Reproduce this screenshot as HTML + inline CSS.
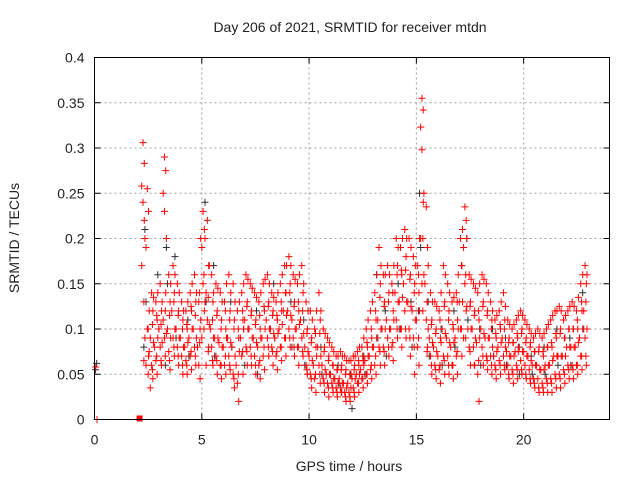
<!DOCTYPE html>
<html><head><meta charset="utf-8"><style>
body{margin:0;background:#fff}
svg text{font-family:"Liberation Sans",sans-serif;font-size:14px;fill:#222}
</style></head><body>
<svg id="c" width="640" height="480" xmlns="http://www.w3.org/2000/svg">
<text x="350" y="32" text-anchor="middle">Day 206 of 2021, SRMTID for receiver mtdn</text>
<text x="349" y="471" text-anchor="middle">GPS time / hours</text>
<text transform="translate(19,238) rotate(-90)" text-anchor="middle">SRMTID / TECUs</text>
<g id="grid"></g><g id="ticks"></g><g id="marks"></g>
<rect x="94.5" y="57.5" width="515" height="362" fill="none" stroke="#000" stroke-width="1"/>
</svg>
<script>
const xTicks=[0,5,10,15,20];
const yTicks=[0,0.05,0.1,0.15,0.2,0.25,0.3,0.35,0.4];
const yTickLabels=["0","0.05","0.1","0.15","0.2","0.25","0.3","0.35","0.4"];
const redRows=[
[0,.058,0.0],
[2.2,.306,.283,.258,.24,.22,.17],[2.4,.255,.23,.19,.1,.07,.06],[2.6,.14,.12,.09,.06,.045,.035],[2.8,.13,.11,.08,.065,.05],
[3.0,.15,.12,.1,.08,.06],[3.2,.29,.275,.25,.23,.14,.11,.09],[3.4,.16,.13,.1,.075,.055],[3.6,.17,.14,.12,.09,.07],[3.8,.15,.12,.1,.08,.06],
[4.0,.13,.11,.09,.07,.05],[4.2,.12,.1,.08,.065,.05],[4.4,.14,.12,.09,.07,.055],[4.6,.16,.13,.1,.08,.06],[4.8,.13,.1,.08,.06,.045],
[5.0,.23,.21,.19,.15,.12,.09],[5.2,.22,.17,.14,.11,.08,.06],[5.4,.16,.13,.1,.08,.06],[5.6,.15,.12,.09,.07,.05],[5.8,.14,.11,.085,.06,.045],
[6.0,.13,.1,.08,.06,.05],[6.2,.16,.12,.09,.07,.055],[6.4,.15,.11,.08,.05,.035],[6.6,.12,.09,.06,.04,.02],[6.8,.14,.11,.09,.07,.05],
[7.0,.16,.13,.11,.08,.06],[7.2,.15,.12,.1,.08,.06],[7.4,.14,.11,.09,.07,.05],[7.6,.13,.1,.08,.06,.045],[7.8,.15,.12,.09,.07,.055],
[8.0,.16,.13,.11,.09,.07],[8.2,.14,.12,.1,.08,.06],[8.4,.13,.11,.09,.07,.055],[8.6,.15,.12,.1,.08,.065],[8.8,.17,.14,.12,.09,.07],
[9.0,.18,.15,.12,.1,.08],[9.2,.16,.13,.11,.09,.07],[9.4,.15,.12,.1,.08,.06],[9.6,.17,.14,.11,.09,.07],[9.8,.13,.1,.08,.06,.05],
[10.0,.12,.09,.07,.05,.035],[10.2,.1,.08,.06,.045,.03],[10.4,.14,.11,.08,.06,.04],[10.6,.1,.08,.06,.045,.03],[10.8,.09,.07,.05,.04,.025],
[11.0,.08,.06,.05,.04,.03],[11.2,.07,.055,.045,.035,.025],[11.4,.075,.06,.045,.035,.03],[11.6,.07,.055,.04,.03,.02],[11.8,.065,.05,.04,.03,.02],
[12.0,.07,.06,.045,.035,.025],[12.2,.075,.06,.05,.04,.03],[12.4,.08,.065,.055,.045,.035],[12.6,.1,.08,.065,.05,.04],[12.8,.12,.09,.07,.055,.045],
[13.0,.14,.11,.08,.06,.05],[13.2,.19,.15,.11,.08,.06],[13.4,.16,.13,.1,.08,.06],[13.6,.17,.14,.11,.09,.07],[13.8,.15,.12,.1,.08,.065],
[14.0,.2,.17,.14,.11,.09],[14.2,.19,.16,.13,.1,.08],[14.4,.21,.18,.15,.12,.09],[14.6,.2,.16,.13,.1,.07],[14.8,.18,.15,.12,.09,.05],
[15.0,.17,.14,.11,.08,.06],[15.2,.355,.342,.323,.298,.24,.2,.15],[15.4,.235,.19,.15,.11,.08],[15.6,.14,.11,.09,.07,.05],[15.8,.13,.1,.08,.06,.045],
[16.0,.12,.09,.07,.055,.04],[16.2,.17,.13,.1,.07,.05],[16.4,.15,.12,.09,.07,.05],[16.6,.13,.1,.08,.06,.045],[16.8,.14,.11,.09,.07,.05],
[17.0,.2,.17,.13,.1,.07],[17.2,.235,.22,.19,.15,.12,.09],[17.4,.16,.13,.1,.08,.06],[17.6,.15,.12,.1,.08,.06],[17.8,.14,.11,.085,.05,.02],
[18.0,.16,.13,.1,.08,.06],[18.2,.15,.12,.09,.07,.055],[18.4,.13,.11,.09,.07,.05],[18.6,.11,.09,.07,.06,.045],[18.8,.12,.1,.08,.065,.05],
[19.0,.14,.11,.09,.07,.055],[19.2,.11,.09,.075,.06,.045],[19.4,.1,.085,.07,.055,.04],[19.6,.11,.09,.075,.06,.045],[19.8,.12,.1,.08,.065,.05],
[20.0,.11,.09,.075,.06,.045],[20.2,.1,.085,.07,.055,.04],[20.4,.09,.075,.06,.045,.035],[20.6,.1,.08,.06,.045,.03],[20.8,.09,.07,.055,.04,.03],
[21.0,.1,.08,.06,.045,.03],[21.2,.11,.08,.06,.045,.03],[21.4,.12,.09,.07,.05,.035],[21.6,.125,.1,.07,.05,.035],[21.8,.11,.09,.07,.055,.04],
[22.0,.12,.1,.08,.06,.045],[22.2,.13,.1,.08,.06,.045],[22.4,.12,.1,.08,.06,.05],[22.6,.15,.12,.09,.07,.055],[22.8,.17,.15,.12,.09,.06]
];
const redRows2=[
[2.3,.2,.13,.09,.065],[2.5,.12,.1,.075,.05],[2.7,.135,.105,.085,.055],[2.9,.14,.115,.09,.07],[3.1,.13,.105,.085,.065],
[3.3,.2,.12,.095,.07],[3.5,.15,.115,.09,.065],[3.7,.16,.13,.1,.08],[3.9,.14,.115,.09,.07],[4.1,.12,.1,.08,.06],
[4.3,.13,.105,.085,.06],[4.5,.15,.125,.1,.075],[4.7,.14,.115,.09,.07],[4.9,.2,.14,.11,.085],[5.1,.2,.16,.13,.1],
[5.3,.17,.135,.105,.075],[5.5,.14,.11,.09,.065],[5.7,.145,.115,.09,.065],[5.9,.13,.1,.08,.06],[6.1,.15,.12,.09,.07],
[6.3,.14,.11,.085,.06],[6.5,.13,.1,.07,.045],[6.7,.13,.1,.075,.05],[6.9,.15,.12,.1,.075],[7.1,.155,.125,.1,.075],
[7.3,.145,.115,.09,.07],[7.5,.135,.105,.085,.06],[7.7,.14,.115,.09,.065],[7.9,.155,.125,.1,.08],[8.1,.15,.125,.1,.08],
[8.3,.135,.115,.095,.075],[8.5,.14,.115,.095,.075],[8.7,.16,.13,.105,.08],[8.9,.17,.14,.115,.09],[9.1,.17,.14,.115,.09],
[9.3,.155,.125,.1,.08],[9.5,.16,.13,.105,.08],[9.7,.15,.12,.095,.075],[9.9,.12,.095,.075,.055],[10.1,.11,.085,.065,.045],
[10.3,.12,.095,.07,.05],[10.5,.12,.095,.07,.05],[10.7,.095,.075,.055,.04],[10.9,.085,.065,.05,.035],[11.1,.075,.06,.045,.035],
[11.3,.07,.055,.04,.03],[11.5,.07,.055,.04,.03],[11.7,.065,.05,.035,.025],[11.9,.065,.05,.035,.025],[12.1,.07,.055,.045,.03],
[12.3,.08,.065,.05,.04],[12.5,.09,.07,.06,.045],[12.7,.11,.085,.07,.05],[12.9,.13,.1,.08,.06],[13.1,.16,.12,.09,.07],
[13.3,.17,.135,.1,.075],[13.5,.16,.125,.1,.075],[13.7,.16,.13,.1,.08],[13.9,.17,.14,.11,.085],[14.1,.19,.16,.13,.1],
[14.3,.2,.165,.135,.1],[14.5,.2,.165,.13,.1],[14.7,.19,.155,.125,.09],[14.9,.17,.14,.11,.08],[15.1,.2,.16,.12,.09],
[15.3,.25,.2,.16,.12],[15.5,.17,.13,.1,.075],[15.7,.13,.105,.085,.06],[15.9,.125,.095,.075,.055],[16.1,.14,.11,.085,.06],
[16.3,.16,.125,.095,.065],[16.5,.14,.11,.085,.06],[16.7,.135,.105,.085,.06],[16.9,.16,.13,.1,.075],[17.1,.21,.17,.13,.1],
[17.3,.2,.16,.125,.09],[17.5,.155,.125,.1,.075],[17.7,.145,.115,.09,.06],[17.9,.15,.12,.09,.065],[18.1,.155,.125,.095,.07],
[18.3,.14,.115,.09,.065],[18.5,.12,.1,.08,.06],[18.7,.115,.095,.075,.055],[18.9,.13,.105,.085,.06],[19.1,.125,.1,.08,.06],
[19.3,.105,.085,.07,.05],[19.5,.105,.085,.07,.05],[19.7,.115,.095,.075,.055],[19.9,.115,.095,.075,.055],[20.1,.105,.085,.07,.05],
[20.3,.095,.08,.065,.045],[20.5,.095,.075,.06,.04],[20.7,.095,.075,.055,.035],[20.9,.095,.075,.055,.035],[21.1,.105,.08,.06,.04],
[21.3,.115,.085,.065,.04],[21.5,.12,.095,.07,.045],[21.7,.12,.095,.07,.045],[21.9,.115,.09,.07,.05],[22.1,.125,.1,.08,.055],
[22.3,.125,.1,.08,.055],[22.5,.135,.11,.085,.06],[22.7,.16,.13,.1,.07],[22.9,.16,.13,.1,.07]
];
const blackRows=[
[0,.055,.062],[2.3,.21,.13,.08],[2.9,.16,.1],[3.3,.19,.15,.06],[3.7,.18,.09],[4.3,.11,.07],[5.1,.24,.13],[5.5,.17,.07],
[6.3,.13,.08],[6.9,.1,.06],[7.5,.12,.05],[8.3,.15,.09],[9.1,.13,.08],[9.7,.11,.06],[10.5,.08,.05],[11.3,.06,.04],
[11.9,.05,.012],[12.5,.07,.05],[13.1,.16,.09],[13.5,.12,.07],[14.1,.15,.1],[14.7,.13,.08],[15.1,.25,.19,.12],[15.5,.13,.07],
[16.1,.1,.06],[16.7,.12,.08],[17.3,.2,.11],[17.9,.1,.06],[18.5,.1,.07],[19.1,.09,.06],[19.7,.08,.05],[20.3,.07,.05],
[20.9,.08,.05],[21.5,.1,.06],[22.1,.09,.06],[22.7,.14,.1]
];
const redSquare=[2.1,0];
const NS="http://www.w3.org/2000/svg";
const X0=94.5,X1=609.5,Y0=419.5,Y1=57.5;
const xs=t=>X0+(X1-X0)*t/24;
const ys=v=>Y0-(Y0-Y1)*v/0.4;
function mk(tag,attrs,parent){const e=document.createElementNS(NS,tag);for(const k in attrs)e.setAttribute(k,attrs[k]);parent.appendChild(e);return e;}
const grid=document.getElementById('grid'),ticks=document.getElementById('ticks'),marks=document.getElementById('marks');
yTicks.forEach((v,i)=>{
  const y=ys(v);
  if(i>0&&i<yTicks.length-1){const g=mk('line',{x1:X0,x2:X1,y1:y,y2:y,stroke:'#a0a0a0','stroke-dasharray':'2,3'},grid);
  
  }
  mk('line',{x1:X0,x2:X0+6,y1:y,y2:y,stroke:'#000'},ticks);
  mk('line',{x1:X1,x2:X1-6,y1:y,y2:y,stroke:'#000'},ticks);
  const t=mk('text',{x:X0-10,y:y+5,'text-anchor':'end'},ticks);t.textContent=yTickLabels[i];
  
  
});
xTicks.forEach(v=>{
  const x=xs(v);
  if(v>0){const g=mk('line',{x1:x,x2:x,y1:Y0,y2:Y1,stroke:'#a0a0a0','stroke-dasharray':'2,3'},grid);
  
  }
  mk('line',{x1:x,x2:x,y1:Y0,y2:Y0-6,stroke:'#000'},ticks);
  mk('line',{x1:x,x2:x,y1:Y1,y2:Y1+6,stroke:'#000'},ticks);
  const t=mk('text',{x:x,y:Y0+25,'text-anchor':'middle'},ticks);t.textContent=String(v);
  
  
});
function plus(t,v,col,name){
  const x=xs(t),y=ys(v);
  const p=mk('path',{d:`M${x-3.5},${y}h7M${x},${y-3.5}v7`,stroke:col,'stroke-width':1,fill:'none'},marks);
  
  
}
blackRows.forEach(r=>{for(let i=1;i<r.length;i++)plus(r[0]+(i%3)*0.05,r[i],'#303030','point-black');});
redRows.forEach(r=>{for(let i=1;i<r.length;i++)plus(r[0]+(i%3)*0.06,r[i],'#ff0000','point-red');});
redRows2.forEach(r=>{for(let i=1;i<r.length;i++)plus(r[0]+(i%2)*0.05,r[i],'#ff0000','point-red');});
const sq=mk('rect',{x:xs(redSquare[0])-3,y:ys(redSquare[1])-4,width:6,height:6,fill:'#ff0000'},marks);


</script>
</body></html>
